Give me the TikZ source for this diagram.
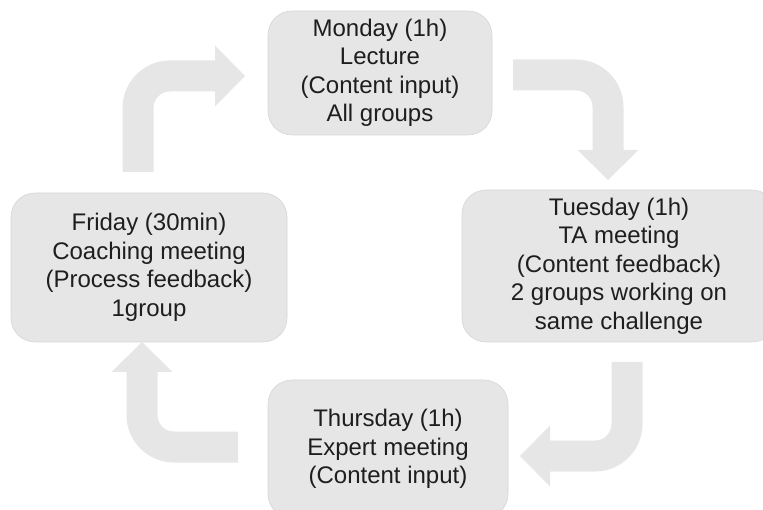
\documentclass[tikz,border=0pt]{standalone}
\usepackage{fontspec}
\setmainfont{Liberation Sans}
\usepackage{xcolor}
\definecolor{boxgray}{RGB}{230,230,230}
\definecolor{edgegray}{RGB}{214,214,214}
\definecolor{txtgray}{RGB}{30,30,30}
\usepackage{tikz}
\usetikzlibrary{positioning,arrows.meta}

\begin{document}
\begin{tikzpicture}[
  x=1pt, y=-1pt,
  font=\fontsize{24}{28.5}\selectfont,
  day/.style={
    rectangle, draw=edgegray, fill=boxgray, line width=0.6pt,
    rounded corners=24pt, align=center, text=txtgray,
    inner sep=0pt
  },
  flow/.style={
    draw=boxgray, line width=31pt, rounded corners=32pt,
    -{Triangle[width=61pt,length=30pt,line width=0pt]}
  }
]
\useasboundingbox (0,0) rectangle (763,510);
\clip (0,0) rectangle (763,510);

\node[day, minimum width=224pt, minimum height=124pt] (mon) at (380,73)
  {Monday (1h)\\Lecture\\(Content input)\\All groups};
\node[day, minimum width=314pt, minimum height=152pt] (tue) at (619,266)
  {Tuesday (1h)\\TA meeting\\(Content feedback)\\2 groups working on\\same challenge};
\node[day, minimum width=240pt, minimum height=138pt] (thu) at (388,449)
  {Thursday (1h)\\Expert meeting\\(Content input)};
\node[day, minimum width=276pt, minimum height=149pt] (fri) at (149,267.5)
  {Friday (30min)\\Coaching meeting\\(Process feedback)\\1group};

% ends of the bent arrows
\coordinate (f1) at (138,172);   \coordinate (m1) at (245,76);
\coordinate (m2) at (513,75);    \coordinate (t2) at (608,180);
\coordinate (t3) at (627,362);   \coordinate (h3) at (520,456);
\coordinate (h4) at (238,447);   \coordinate (f4) at (142,342);

\draw[flow] (f1) |- (m1);
\draw[flow] (m2) -| (t2);
\draw[flow] (t3) |- (h3);
\draw[flow] (h4) -| (f4);
\end{tikzpicture}
\end{document}
